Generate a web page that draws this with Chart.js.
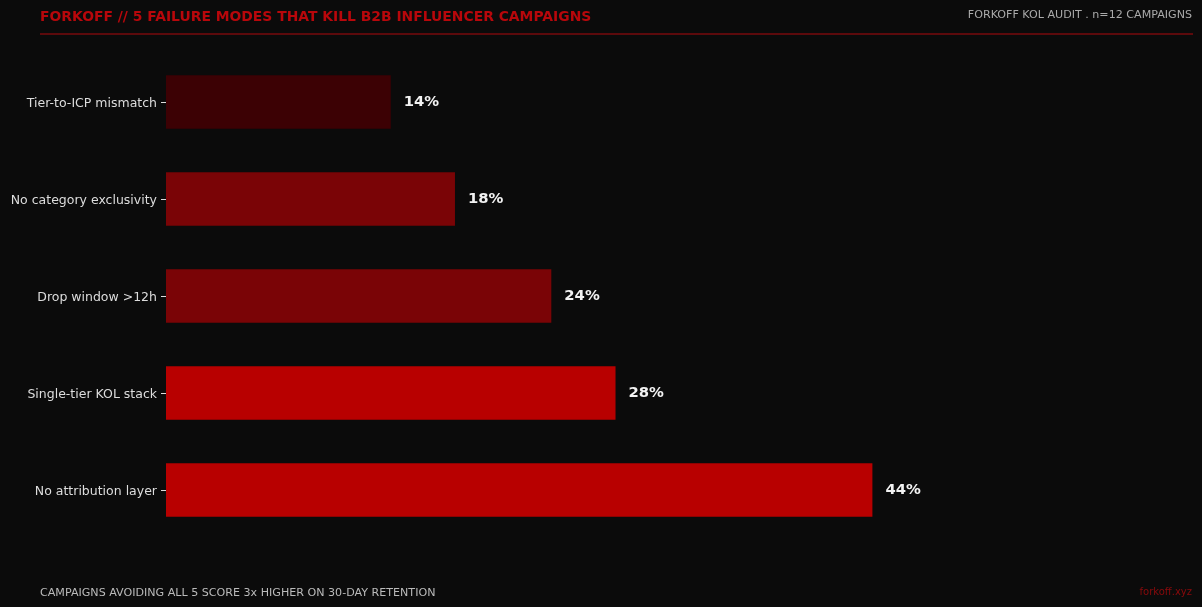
<!DOCTYPE html>
<html><head><meta charset="utf-8">
<script src="https://cdn.jsdelivr.net/npm/chart.js@4.4.1/dist/chart.umd.min.js"></script>
<style>
html,body{margin:0;padding:0;background:#0b0b0b;}
#wrap{position:relative;width:1202px;height:607px;overflow:hidden;font-family:"DejaVu Sans",sans-serif;}
canvas{position:absolute;left:0;top:0;}
.t{position:absolute;white-space:nowrap;}
</style></head><body>
<div id="wrap">
<canvas id="c" width="1202" height="607"></canvas>
<div class="t" style="left:40px;top:8px;font-size:13.9px;font-weight:bold;color:#b8070b;">FORKOFF // 5 FAILURE MODES THAT KILL B2B INFLUENCER CAMPAIGNS</div>
<div class="t" style="right:10px;top:8px;font-size:11.1px;color:#aaaaaa;">FORKOFF KOL AUDIT . n=12 CAMPAIGNS</div>
<div style="position:absolute;left:40px;top:33px;width:1153px;height:2px;background:#5c0a0c;"></div>
<div class="t" style="left:40px;top:586px;font-size:11.1px;color:#bbbbbb;">CAMPAIGNS AVOIDING ALL 5 SCORE 3x HIGHER ON 30-DAY RETENTION</div>
<div class="t" style="right:10px;top:586px;font-size:10px;color:#8a0a0c;">forkoff.xyz</div>
</div>
<script>
const categories = ["Tier-to-ICP mismatch","No category exclusivity","Drop window >12h","Single-tier KOL stack","No attribution layer"];
const values = [14,18,24,28,44];
const barColors = ["#3c0104","#7a0406","#7a0406","#b80000","#b80000"];

const valueLabels = {
  id:'valueLabels',
  afterDatasetsDraw(chart){
    const ctx = chart.ctx;
    const meta = chart.getDatasetMeta(0);
    ctx.save();
    ctx.font = 'bold 14.8px "DejaVu Sans"';
    ctx.fillStyle = '#f2f2f2';
    ctx.textBaseline = 'middle';
    ctx.textAlign = 'left';
    meta.data.forEach((bar,i)=>{
      ctx.fillText(values[i]+'%', bar.x+13, bar.y+0.5);
    });
    ctx.restore();
  }
};

new Chart(document.getElementById('c'),{
  type:'bar',
  data:{labels:categories,datasets:[{data:values,backgroundColor:barColors,borderWidth:0,barPercentage:0.55,categoryPercentage:1.0}]},
  options:{
    indexAxis:'y',
    responsive:false,
    animation:false,
    layout:{padding:{left:0,right:153,top:53.5,bottom:68.5}},
    plugins:{legend:{display:false},tooltip:{enabled:false}},
    scales:{
      x:{display:false,min:0,max:55},
      y:{
        afterFit(s){s.width=166;},
        grid:{display:true,drawOnChartArea:false,drawTicks:true,tickLength:5,color:'#dddddd',offset:false,lineWidth:1},
        border:{display:false},
        ticks:{color:'#dddddd',font:{family:'"DejaVu Sans"',size:12.5},padding:4,labelOffset:1.5}
      }
    }
  },
  plugins:[valueLabels]
});
</script>
</body></html>
